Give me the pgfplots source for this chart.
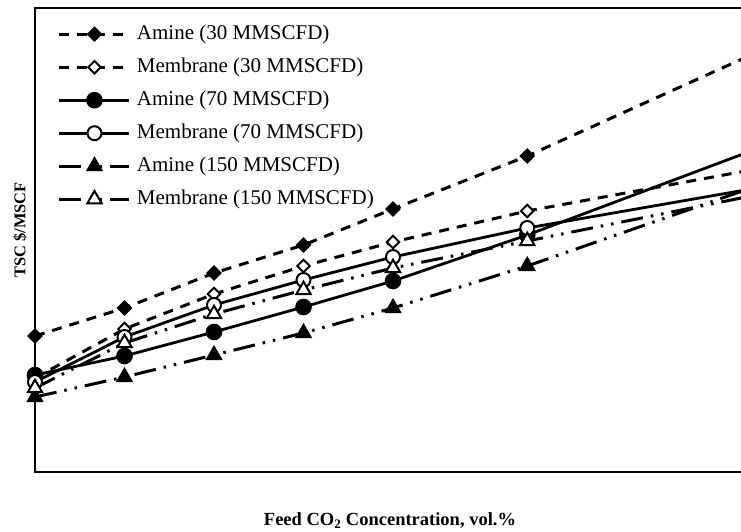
\documentclass[border=0pt]{standalone}
\usepackage{pgfplots}
\pgfplotsset{compat=1.18}
\usepackage{fontspec}
\setmainfont{Liberation Serif}
\begin{document}
\begin{tikzpicture}
\useasboundingbox (0,0) rectangle (741pt,531pt);
\begin{axis}[
  at={(35pt,59pt)}, anchor=south west,
  scale only axis, width=712pt, height=464pt,
  xmin=10, xmax=89.55, ymin=0, ymax=464,
  xtick=\empty, ytick=\empty,
  axis line style={line width=1.8pt},
  legend style={at={(axis description cs:0.032,0.9655)}, anchor=north west, draw=none, fill=none,
    font=\fontsize{21}{25}\selectfont, inner sep=0pt, row sep=13pt, column sep=0pt,
    nodes={inner sep=0pt, text height=15pt, text depth=5pt, anchor=west}},
  legend cell align=left,
  legend image code/.code={\draw[mark repeat=2,mark phase=2,#1] plot coordinates {(0pt,0pt) (35pt,0pt) (70pt,0pt)};},
  dashA/.style={line width=3pt, dash pattern=on 10pt off 8pt},
  solidA/.style={line width=2.8pt, solid},
  ddA/.style={line width=3pt, dash pattern=on 22pt off 8pt on 2.5pt off 8pt on 2.5pt off 8pt},
]
\addplot[dashA, black, mark=square*, mark size=5pt, mark options={solid, rotate=45, fill=black, line width=1pt}]
  coordinates {(10,136) (20,164) (30,199) (40,227) (50,263) (65,316) (90,417)};
\addlegendentry{\hspace{6pt}Amine (30 MMSCFD)}
\addplot[dashA, black, mark=square*, mark size=4.4pt, mark options={solid, rotate=45, fill=white, line width=2pt}]
  coordinates {(10,94) (20,143) (30,178) (40,206) (50,230) (65,261) (90,302)};
\addlegendentry{\hspace{6pt}Membrane (30 MMSCFD)}
\addplot[solidA, black, mark=*, mark size=7.8pt, mark options={solid, fill=black, line width=1pt}]
  coordinates {(10,97) (20,116) (30,140) (40,165) (50,191) (65,237) (90,321)};
\addlegendentry{\hspace{6pt}Amine (70 MMSCFD)}
\addplot[solidA, black, mark=*, mark size=7pt, mark options={solid, fill=white, line width=2pt}]
  coordinates {(10,90) (20,135) (30,167) (40,192) (50,215) (65,244) (90,283)};
\addlegendentry{\hspace{6pt}Membrane (70 MMSCFD)}
\addplot[ddA, black, mark=triangle*, mark size=9pt, mark options={solid, fill=black, line width=1pt}]
  coordinates {(10,75) (20,95) (30,117) (40,139) (50,164) (65,206) (90,284)};
\addlegendentry{\hspace{6pt}Amine (150 MMSCFD)}
\addplot[ddA, black, mark=triangle*, mark size=8.3pt, mark options={solid, fill=white, line width=2pt}]
  coordinates {(10,84) (20,129) (30,158) (40,182) (50,204) (65,231) (90,276)};
\addlegendentry{\hspace{6pt}Membrane (150 MMSCFD)}
\end{axis}
\node[font=\bfseries\fontsize{16.4}{18}\selectfont, rotate=90] at (20pt,301pt) {TSC \$/MSCF};
\node[font=\bfseries\fontsize{18.5}{20}\selectfont] at (390pt,10pt) {Feed CO\textsubscript{2} Concentration, vol.\%};
\end{tikzpicture}
\end{document}
